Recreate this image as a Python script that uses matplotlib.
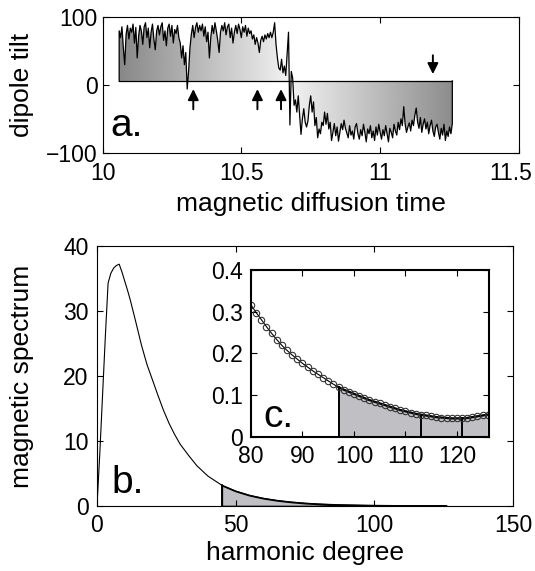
import numpy as np
import matplotlib
matplotlib.use('Agg')
from matplotlib import pyplot as plt
from matplotlib.path import Path
from matplotlib.patches import PathPatch
from matplotlib.transforms import ScaledTranslation

plt.rcParams['font.family'] = ['Liberation Sans', 'DejaVu Sans']
plt.rcParams['font.size'] = 16.5
plt.rcParams['xtick.direction'] = 'in'
plt.rcParams['ytick.direction'] = 'in'

# Panel a: dipole tilt, sampled every 0.005 diffusion times from 10.06
tilt_start = 10.06
tilt_step = 0.005
tilt = [80, 70, 86, 55, 30, 75, 88, 68, 84, 78,
        90, 62, 85, 40, 72, 88, 80, 60, 86, 92,
        70, 84, 55, 78, 90, 68, 52, 80, 88, 74,
        86, 92, 66, 80, 58, 84, 90, 72, 88, 62,
        82, 76, 88, 70, 62, 40, 58, 30, 48, -6,
        20, 55, 75, 88, 70, 85, 92, 78, 88, 80,
        90, 72, 86, 64, 78, 40, 70, 88, 76, 92,
        80, 66, 48, 78, 88, 80, 92, 74, 86, 90,
        70, 84, 62, 78, 88, 76, 90, 82, 70, 86,
        78, 88, 72, 84, 76, 80, 68, 74, 60, 70,
        62, 48, 66, 72, 64, 74, 68, 76, 70, 78,
        70, 78, 92, 60, 40, 25, 22, 38, 18, 28,
        14, 45, 78, -59, 20, 10, -30, -22, -40, -16,
        -45, -73, -50, -35, -55, -62, -53, -30, -16, -40,
        -25, -60, -48, -78, -65, -72, -55, -60, -40, -58,
        -42, -65, -55, -82, -70, -57, -75, -62, -83, -70,
        -57, -66, -52, -64, -71, -78, -60, -74, -68, -80,
        -62, -57, -72, -80, -66, -75, -58, -70, -84, -65,
        -72, -60, -78, -68, -82, -62, -74, -58, -70, -80,
        -66, -75, -60, -72, -84, -64, -70, -78, -58, -68,
        -74, -55, -66, -50, -60, -32, -58, -70, -62, -56,
        -68, -52, -60, -45, -34, -55, -64, -48, -70, -58,
        -50, -65, -55, -72, -60, -52, -68, -76, -62, -58,
        -70, -80, -64, -74, -58, -82, -68, -76, -62, -72,
        -57]
tilt_base = 6
reversal = 10.675
up_arrows = [10.327, 10.558, 10.643]
down_arrows = [11.19]

# Panel b: magnetic spectrum vs harmonic degree
deg_low = [0, 1, 2, 3, 4, 5, 6, 7, 8, 9, 10, 11, 12, 14, 16, 18, 20, 22, 24,
           26, 28, 30, 33, 36, 40, 45, 50, 55, 60, 65, 70, 75]
spec_low = [0, 8, 17, 26, 34.3, 35.8, 36.6, 37.0, 37.2, 36.0, 34.6, 33.2, 31.7,
            28.3, 24.8, 21.8, 19.4, 17.0, 14.7, 12.7, 11.0, 9.5, 7.8, 6.2, 4.6,
            3.2, 2.3, 1.65, 1.19, 0.86, 0.62, 0.44]
deg_hi = list(range(80, 127))
spec_hi = [0.316, 0.298, 0.281, 0.264, 0.248, 0.233, 0.219, 0.207, 0.196, 0.186,
           0.176, 0.167, 0.158, 0.150, 0.142, 0.134, 0.126, 0.119, 0.113, 0.108,
           0.103, 0.098, 0.093, 0.088, 0.084, 0.080, 0.076, 0.072, 0.068, 0.064,
           0.061, 0.058, 0.055, 0.053, 0.051, 0.049, 0.047, 0.046, 0.045, 0.044,
           0.044, 0.044, 0.045, 0.047, 0.049, 0.051, 0.053]
shade_b = 45
shade_c = 97
marks_c = [113, 121]

fill_gray = '#c0c0c4'

fig = plt.figure(figsize=(5.35, 5.71), dpi=100)

# ---- panel a
ax = fig.add_axes([0.1916, 0.7326, 0.7784, 0.2371])
tt = tilt_start + tilt_step * np.arange(len(tilt))
tv = np.array(tilt, dtype=float)
xs = np.concatenate([[tt[0]], tt, [tt[-1]]])
ys = np.concatenate([[tilt_base], tv, [tilt_base]])

# grey gradient, darkest at the ends, lightest at the reversal
gx = np.linspace(tt[0], tt[-1], 400)
shade = np.where(gx < reversal,
                 0.53 + 0.42 * (gx - tt[0]) / (reversal - tt[0]),
                 0.95 - 0.40 * (gx - reversal) / (tt[-1] - reversal))
im = ax.imshow(shade[np.newaxis, :], cmap='gray', vmin=0, vmax=1, aspect='auto',
               extent=[tt[0], tt[-1], -100, 100], interpolation='bilinear')
clip = PathPatch(Path(np.column_stack([xs, ys])), transform=ax.transData,
                 facecolor='none', edgecolor='none')
ax.add_patch(clip)
im.set_clip_path(clip)

ax.plot(xs, ys, color='k', lw=0.9)
ax.plot([tt[0], tt[-1]], [tilt_base, tilt_base], color='k', lw=0.9)

for t in up_arrows:
    ax.annotate('', xy=(t, -2), xytext=(t, -40),
                arrowprops=dict(arrowstyle='-|>', color='k', lw=1.4, mutation_scale=16))
for t in down_arrows:
    ax.annotate('', xy=(t, 12), xytext=(t, 48),
                arrowprops=dict(arrowstyle='-|>', color='k', lw=1.4, mutation_scale=16))

ax.set_xlim(10, 11.5)
ax.set_ylim(-100, 100)
ax.set_xticks([10, 10.5, 11, 11.5])
ax.set_xticklabels(['10', '10.5', '11', '11.5'])
ax.set_yticks([-100, 0, 100])
ax.set_xlabel('magnetic diffusion time', fontsize=19, va='top')
ax.set_ylabel('dipole tilt', fontsize=19)
ax.xaxis.set_label_coords(0.5, -0.29)
ax.yaxis.set_label_coords(-0.165, 0.5)
ax.text(0.02, 0.12, 'a.', transform=ax.transAxes, fontsize=28)

# ---- panel b
bx = fig.add_axes([0.1813, 0.1138, 0.7776, 0.4554])
deg = np.array(deg_low + deg_hi, dtype=float)
spec = np.array(spec_low + spec_hi)
sel = deg >= shade_b
bx.fill_between(deg[sel], spec[sel], 0, facecolor=fill_gray, edgecolor='k', lw=1.2)
bx.plot(deg, spec, color='k', lw=0.8)
bx.plot([shade_b, shade_b], [0, spec[deg == shade_b][0]], color='k', lw=1.3)
bx.set_xlim(0, 150)
bx.set_ylim(0, 40)
bx.set_xticks([0, 50, 100, 150])
bx.set_yticks([0, 10, 20, 30, 40])
bx.set_xlabel('harmonic degree', fontsize=19, va='top')
bx.set_ylabel('magnetic spectrum', fontsize=19)
bx.xaxis.set_label_coords(0.5, -0.135)
bx.yaxis.set_label_coords(-0.152, 0.5)
bx.text(0.035, 0.05, 'b.', transform=bx.transAxes, fontsize=28)

# ---- inset c
cx = fig.add_axes([0.4692, 0.2352, 0.4454, 0.2919])
dh = np.array(deg_hi, dtype=float)
sh = np.array(spec_hi)
selc = dh >= shade_c
cx.fill_between(dh[selc], sh[selc], 0, facecolor=fill_gray, edgecolor='none')
cx.plot([shade_c, shade_c], [0, sh[dh == shade_c][0]], color='k', lw=1.4)
for m in marks_c:
    cx.plot([m, m], [0, sh[dh == m][0]], color='k', lw=1.4)
cx.plot(dh[selc], sh[selc], color='k', lw=1.6)
cx.plot(dh, sh, color='k', lw=0.8, marker='o', markersize=4.6,
        markerfacecolor='none', markeredgecolor='#333333', markeredgewidth=0.8)
cx.set_xlim(80, 126.3)
cx.set_ylim(0, 0.4)
cx.set_xticks([80, 90, 100, 110, 120])
cx.set_yticks([0, 0.1, 0.2, 0.3, 0.4])
cx.set_yticklabels(['0', '0.1', '0.2', '0.3', '0.4'])
for s in cx.spines.values():
    s.set_linewidth(1.5)
cx.text(0.05, 0.06, 'c.', transform=cx.transAxes, fontsize=28)

ax.tick_params(axis='x', pad=7)
bx.tick_params(axis='x', pad=6)
bx.tick_params(axis='y', pad=6)
cx.tick_params(axis='x', pad=6)
cx.tick_params(axis='y', pad=6)
for a in (ax, bx, cx):
    a.tick_params(top=True, right=True, length=4, width=0.8)

# keep the last time label inside the figure, as in the original
last = ax.get_xticklabels()[-1]
last.set_transform(last.get_transform() + ScaledTranslation(-6 / 72, 0, fig.dpi_scale_trans))

fig.savefig('out.png', dpi=100)
